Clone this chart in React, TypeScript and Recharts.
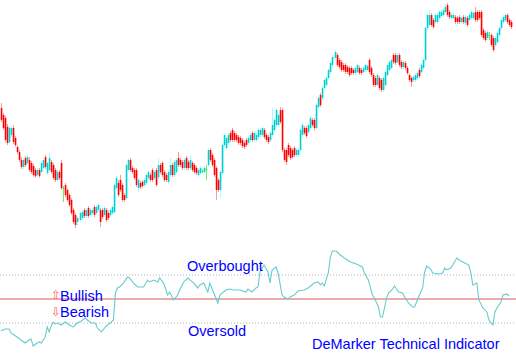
import React from 'react';
import { ComposedChart, Bar, XAxis, YAxis, LineChart, Line, ReferenceLine } from 'recharts';

// [open, high, low, close] in arbitrary price units
const ohlc: [number, number, number, number][] = [
  [142,147,128,130],[135,137,120,122],[132,134,108,110],[123,126,105,107],[108,125,106,122],
  [115,124,113,122],[122,125,106,108],[112,114,103,105],[103,105,96,98],[98,100,88,90],
  [90,93,81,83],[83,92,81,90],[92,94,83,85],[87,95,85,93],[90,93,78,80],
  [87,89,76,78],[84,86,73,75],[80,82,72,74],[75,82,73,80],[80,82,72,74],
  [78,89,76,87],[82,92,80,90],[93,95,81,83],[77,89,75,87],[80,97,78,92],
  [88,90,76,78],[85,87,70,72],[80,82,68,70],[70,80,68,78],[78,80,70,72],
  [87,90,60,62],[62,64,48,62],[65,67,53,55],[60,62,48,50],[55,57,43,45],
  [50,52,35,37],[40,42,26,28],[35,37,22,25],[28,34,24,32],[30,39,28,37],
  [32,40,30,38],[40,42,32,34],[34,42,32,40],[42,44,32,34],[35,42,33,40],
  [37,42,35,40],[43,45,33,35],[37,45,35,43],[40,47,38,45],[40,42,23,28],
  [40,42,31,33],[35,44,33,42],[40,42,28,30],[37,39,30,32],[35,42,33,40],
  [37,45,35,43],[38,67,36,65],[62,74,60,72],[67,70,53,55],[70,75,58,60],
  [65,67,48,50],[55,57,48,50],[52,87,50,85],[80,92,78,90],[90,92,78,80],
  [82,84,76,78],[80,82,70,72],[80,82,63,65],[62,72,58,70],[67,69,61,63],
  [68,70,62,64],[65,72,63,70],[67,77,65,75],[72,80,70,78],[75,77,68,70],
  [80,82,68,70],[72,80,70,78],[80,82,63,65],[73,92,71,85],[85,87,76,78],
  [87,89,73,75],[78,80,68,70],[75,77,68,70],[68,80,66,78],[75,92,73,85],
  [85,87,73,75],[75,90,73,88],[78,92,76,90],[92,98,83,85],[90,92,83,85],
  [88,90,80,82],[82,92,80,90],[92,94,80,82],[88,90,80,82],[82,94,80,90],
  [87,89,78,80],[85,87,76,78],[82,84,75,77],[75,82,73,80],[77,84,75,82],
  [79,81,77,79],[78,84,76,82],[81,85,70,81],[85,102,83,100],[100,102,88,90],
  [95,97,83,85],[90,92,73,75],[82,84,50,60],[70,72,58,60],[60,80,52,78],
  [77,107,75,105],[105,117,103,115],[102,114,100,112],[107,117,105,115],[117,119,108,110],
  [120,122,108,110],[117,119,108,110],[115,117,108,110],[113,115,105,107],[112,114,105,107],
  [110,112,102,104],[107,109,101,103],[110,112,103,105],[107,114,105,112],[110,117,108,115],
  [117,119,108,110],[110,119,108,117],[110,117,108,115],[113,122,111,120],[115,122,113,120],
  [115,124,113,122],[120,122,111,113],[115,117,108,110],[113,115,106,108],[110,119,108,117],
  [115,142,113,125],[120,132,118,130],[125,142,123,140],[125,137,123,135],[140,143,126,128],
  [140,142,98,100],[100,102,88,90],[100,102,85,88],[105,107,93,95],[102,104,90,92],
  [100,102,91,93],[102,104,93,95],[95,102,93,100],[95,102,93,100],[100,122,98,120],
  [115,127,113,125],[122,124,115,117],[122,124,112,114],[118,127,116,125],[122,134,120,132],
  [130,132,123,125],[130,132,120,122],[122,147,120,145],[143,154,141,152],[155,157,143,145],
  [152,164,150,162],[162,172,160,170],[165,174,163,172],[172,182,170,180],[178,189,176,187],
  [185,195,183,193],[192,200,190,198],[195,197,183,185],[190,192,181,183],[188,190,178,180],
  [185,187,178,180],[185,187,176,178],[183,185,176,178],[182,184,173,175],[182,184,175,177],
  [180,182,175,177],[177,184,175,182],[178,187,176,185],[182,184,175,177],[180,182,175,177],
  [178,184,176,182],[180,187,178,185],[180,186,178,184],[190,192,176,178],[182,184,173,175],
  [175,177,163,165],[172,174,163,165],[165,177,163,175],[172,174,160,162],[170,172,158,160],
  [160,174,158,172],[165,180,163,178],[175,187,173,185],[180,190,178,188],[182,192,180,190],
  [195,197,186,188],[195,197,185,187],[188,197,186,195],[195,197,183,185],[188,190,181,183],
  [183,190,181,188],[187,189,180,182],[182,184,175,177],[175,177,168,170],[172,174,163,168],
  [170,175,168,173],[170,177,168,175],[172,179,170,177],[180,182,172,174],[178,187,176,185],
  [182,192,180,190],[190,224,188,222],[222,237,220,235],[225,240,223,235],[235,237,223,225],
  [230,232,221,223],[228,237,226,235],[228,237,226,235],[232,240,230,238],[234,240,232,238],
  [235,242,233,240],[238,246,236,243],[245,247,233,235],[238,240,231,233],[232,237,230,235],
  [232,237,230,235],[233,235,226,228],[232,234,226,228],[233,235,226,228],[228,234,226,232],
  [233,235,226,228],[227,235,225,233],[232,234,223,225],[230,237,228,235],[232,240,230,238],
  [232,239,230,237],[238,243,228,230],[238,240,228,230],[238,240,230,232],[238,240,213,215],
  [220,222,210,212],[217,219,208,210],[212,220,210,218],[215,218,210,215],[215,217,203,205],
  [212,214,198,200],[205,214,203,212],[208,219,206,217],[215,224,213,222],[222,232,220,230],
  [228,235,226,233],[230,237,228,235],[235,237,226,228],[230,232,223,225],[228,230,221,223],
];

// DeMarker readings: bar index and value
const demBars = [
  0,2,4,5,8,10,12,14,15,16,18,19,20,22,23,24,25,26,27,28,30,32,34,36,38,40,42,43,45,47,48,50,52,53,55,56,
  57,58,59,61,63,64,66,68,69,71,73,74,76,78,79,81,83,84,86,88,89,91,93,96,98,99,101,103,104,106,108,109,
  112,114,116,119,122,123,125,127,128,129,131,133,134,135,137,138,140,141,143,144,146,148,151,153,156,158,
  159,160,161,163,164,165,167,169,171,174,177,180,181,183,185,186,188,189,190,191,192,193,195,196,198,200,
  201,203,205,206,208,210,211,212,214,215,218,220,221,222,224,225,227,229,231,233,234,235,237,238,240,242,
  243,245,246,247,249,250,252,253,
];
const demValues = [
  0.236,0.25,0.25,0.217,0.183,0.158,0.133,0.158,0.167,0.108,0.133,0.142,0.133,0.183,0.267,0.225,0.275,0.308,
  0.292,0.30,0.283,0.308,0.283,0.267,0.30,0.317,0.342,0.325,0.30,0.30,0.258,0.225,0.267,0.283,0.308,0.325,
  0.55,0.592,0.60,0.633,0.683,0.675,0.633,0.60,0.60,0.60,0.658,0.642,0.658,0.642,0.675,0.633,0.533,0.558,
  0.492,0.533,0.575,0.642,0.675,0.633,0.592,0.617,0.633,0.558,0.633,0.55,0.467,0.533,
  0.575,0.583,0.575,0.575,0.558,0.583,0.558,0.592,0.60,0.725,0.783,0.725,0.633,0.742,0.767,0.717,0.533,0.517,
  0.50,0.517,0.533,0.567,0.575,0.592,0.633,0.642,
  0.617,0.633,0.608,0.717,0.842,0.90,0.90,0.867,0.842,0.808,0.792,0.767,0.717,0.658,0.533,0.508,0.433,0.35,
  0.35,0.425,0.508,0.55,0.583,0.608,0.558,0.55,
  0.517,0.467,0.433,0.433,0.517,0.592,0.725,0.775,0.75,0.717,0.708,0.717,0.758,0.742,0.758,0.783,0.842,0.817,
  0.80,0.783,0.717,0.617,0.633,0.492,0.425,0.392,
  0.325,0.283,0.392,0.425,0.475,0.533,0.542,0.525,
];

const levels = { overbought: 0.7, middle: 0.5, oversold: 0.3 };

const priceData = ohlc.map(([o, h, l, c], i) => ({ i, o, h, l, c, range: [l, h] }));
const demData = demBars.map((b, k) => ({ b, v: demValues[k] }));

const Candle = (props: any) => {
  const { x, y, width, height, payload } = props;
  if (!payload) return null;
  const { o, h, l, c } = payload;
  const top = Math.min(y, y + height);
  const hh = Math.abs(height);
  const cx = Math.round(x + width / 2) + 0.5;
  const k = hh / (h - l || 1);
  const bTop = top + (h - Math.max(o, c)) * k;
  const bBot = top + (h - Math.min(o, c)) * k;
  const flat = o === c;
  const up = c > o;
  const body = flat ? '#33dd33' : up ? '#00ced1' : '#ff0000';
  const wick = flat ? '#66ee66' : up ? '#a0ffff' : '#ff9a9a';
  return (
    <g>
      <line x1={cx} x2={cx} y1={top} y2={top + hh} stroke={wick} strokeWidth={1} />
      <rect x={cx - 0.75} y={bTop} width={1.6} height={Math.max(bBot - bTop, 1)} fill={body} />
    </g>
  );
};

const txt = { fontFamily: '"Liberation Sans", Arial, sans-serif', fontSize: 14.5, fill: '#0000ff' };
const arrow = { fontFamily: '"DejaVu Sans"', fontSize: 12, fill: '#ff6060' };

export default function App() {
  return (
    <div style={{ position: 'absolute', left: 0, top: 0, width: 516, height: 360, background: '#fff' }}>
      <div style={{ position: 'absolute', left: 0, top: 0 }}>
        <ComposedChart width={516} height={240} data={priceData} margin={{ top: 0, right: 4, bottom: 0, left: 0 }}>
          <XAxis dataKey="i" hide />
          <YAxis hide domain={[10, 250]} />
          <Bar dataKey="range" shape={Candle} isAnimationActive={false} />
        </ComposedChart>
      </div>
      <div style={{ position: 'absolute', left: 0, top: 239 }}>
        <LineChart width={516} height={120} data={demData} margin={{ top: 0, right: 0, bottom: 0, left: 0 }}>
          <XAxis dataKey="b" type="number" domain={[-0.5, 256.5]} hide />
          <YAxis hide domain={[0, 1]} />
          <ReferenceLine y={levels.overbought} stroke="#b4b4b4" strokeDasharray="1 2" />
          <ReferenceLine y={levels.oversold} stroke="#b4b4b4" strokeDasharray="1 2" />
          <ReferenceLine y={levels.middle} stroke="#d85555" />
          <Line type="linear" dataKey="v" stroke="#66cccc" strokeWidth={1.1} dot={false} isAnimationActive={false} />
        </LineChart>
      </div>
      <svg width={516} height={360} style={{ position: 'absolute', left: 0, top: 0, pointerEvents: 'none' }}>
        <text x={187} y={271} style={txt}>Overbought</text>
        <text x={188} y={336} style={txt}>Oversold</text>
        <text x={60} y={301} style={txt}>Bullish</text>
        <text x={60} y={317} style={txt}>Bearish</text>
        <text x={312} y={349} style={txt}>DeMarker Technical Indicator</text>
        <text x={51} y={299} style={arrow}>⇧</text>
        <text x={51} y={316} style={arrow}>⇩</text>
      </svg>
    </div>
  );
}
